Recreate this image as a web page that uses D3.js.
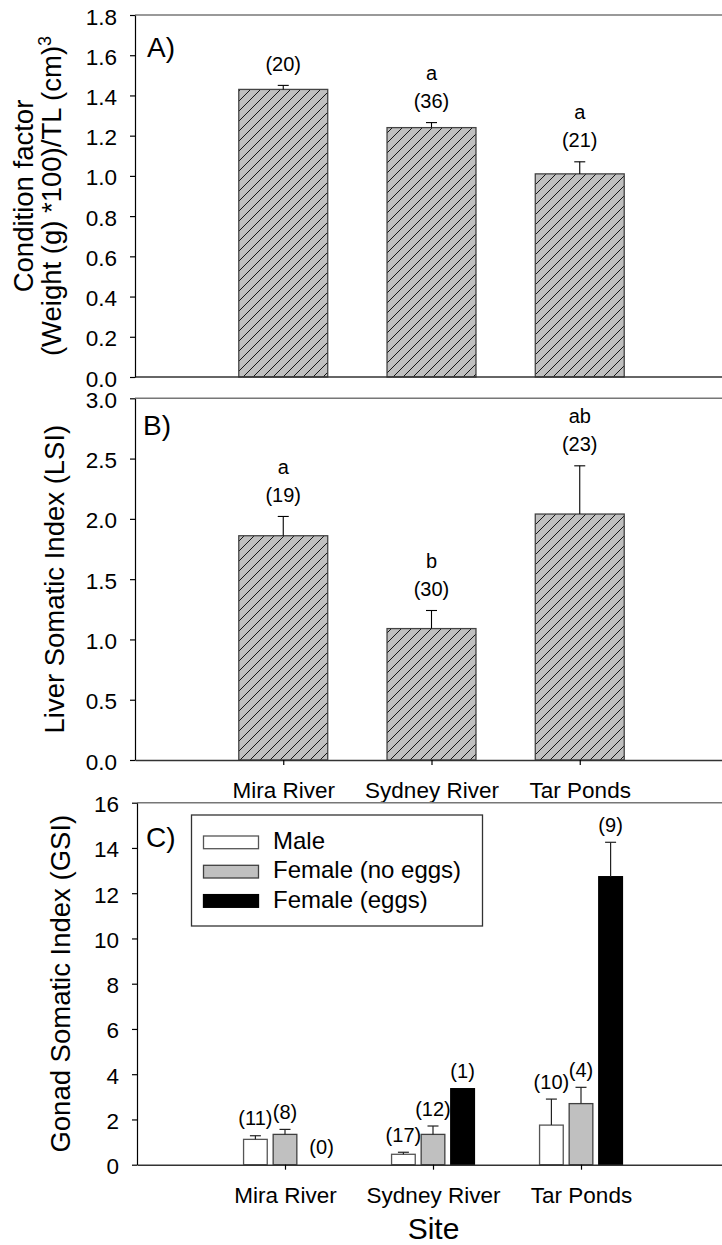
<!DOCTYPE html>
<html><head><meta charset="utf-8">
<script src="https://cdn.jsdelivr.net/npm/d3@7"></script>
<style>body{margin:0;background:#fff}svg{display:block;font-family:"Liberation Sans",Arial,sans-serif}</style>
</head><body><svg id="c" width="722" height="1245"></svg>
<script>
// ---------- data ----------
const sites = ["Mira River", "Sydney River", "Tar Ponds"];

const conditionMean = [1.43, 1.24, 1.01];
const conditionErr = [0.02, 0.025, 0.06];
const conditionN = ["(20)", "(36)", "(21)"];
const conditionLetters = ["", "a", "a"];
const conditionTicks = [0, 0.2, 0.4, 0.6, 0.8, 1.0, 1.2, 1.4, 1.6, 1.8];

const lsiMean = [1.86, 1.09, 2.04];
const lsiErr = [0.16, 0.15, 0.40];
const lsiN = ["(19)", "(30)", "(23)"];
const lsiLetters = ["a", "b", "ab"];
const lsiTicks = [0, 0.5, 1.0, 1.5, 2.0, 2.5, 3.0];

const gsiGroups = ["Male", "Female (no eggs)", "Female (eggs)"];
const gsiMale = [1.12, 0.46, 1.75];
const gsiMaleErr = [0.16, 0.09, 1.15];
const gsiMaleN = ["(11)", "(17)", "(10)"];
const gsiFemaleNoEggs = [1.34, 1.34, 2.70];
const gsiFemaleNoEggsErr = [0.22, 0.37, 0.72];
const gsiFemaleNoEggsN = ["(8)", "(12)", "(4)"];
const gsiFemaleEggs = [0, 3.36, 12.73];
const gsiFemaleEggsErr = [0, 0, 1.52];
const gsiFemaleEggsN = ["(0)", "(1)", "(9)"];
const gsiTicks = [0, 2, 4, 6, 8, 10, 12, 14, 16];

// ---------- drawing ----------
const svg = d3.select("#c");
const defs = svg.append("defs");
const pat = defs.append("pattern").attr("id", "hatch")
  .attr("patternUnits", "userSpaceOnUse").attr("width", 10).attr("height", 10);
pat.append("rect").attr("width", 10).attr("height", 10).attr("fill", "#c0c0c0");
pat.append("path").attr("d", "M-5,5 L5,-5 M0,10 L10,0 M5,15 L15,5")
  .attr("stroke", "#000").attr("stroke-width", 0.9);

const TICK_FS = 22.5, ANN_FS = 20, TITLE_FS = 27.5;

function drawYAxis(axisX, y, ticks, fmt) {
  const g = svg.append("g").attr("transform", `translate(${axisX},0)`)
    .call(d3.axisLeft(y).tickValues(ticks).tickFormat(fmt)
      .tickSize(5).tickSizeOuter(0).tickPadding(13));
  g.select(".domain").attr("stroke", "#000").attr("stroke-width", 1.2);
  g.selectAll(".tick line").attr("stroke", "#000").attr("stroke-width", 1.2);
  g.selectAll(".tick text").attr("font-size", TICK_FS).attr("fill", "#000")
    .attr("font-family", "Liberation Sans, Arial, sans-serif").attr("dy", "0.4em");
  return g;
}

function drawTopLine(axisX, yTop) {
  svg.append("line").attr("x1", axisX).attr("x2", 722).attr("y1", yTop).attr("y2", yTop)
    .attr("stroke", "#777").attr("stroke-width", 1.4);
}

function drawXAxis(axisX, x, y0, withTicks) {
  if (withTicks) {
    const g = svg.append("g").attr("transform", `translate(0,${y0})`)
      .call(d3.axisBottom(x).tickSize(5).tickSizeOuter(0).tickPadding(17));
    g.select(".domain").attr("stroke", "#333").attr("stroke-width", 1.4);
    g.selectAll(".tick line").attr("stroke", "#000").attr("stroke-width", 1.2);
    g.selectAll(".tick text").attr("font-size", TICK_FS).attr("fill", "#000")
      .attr("font-family", "Liberation Sans, Arial, sans-serif");
  } else {
    svg.append("line").attr("x1", axisX).attr("x2", 722).attr("y1", y0).attr("y2", y0)
      .attr("stroke", "#333").attr("stroke-width", 1.4);
  }
}

function rotTitle(lines, xBase, yCenter) {
  lines.forEach((ln, i) => {
    const t = svg.append("text")
      .attr("transform", `translate(${ln.x},${yCenter}) rotate(-90)`)
      .attr("text-anchor", "middle").attr("font-size", TITLE_FS).attr("fill", "#000");
    t.append("tspan").text(ln.text);
    if (ln.sup) t.append("tspan").attr("dy", -10).attr("font-size", 18).text(ln.sup);
  });
}

function hatchPanel(cfg) {
  const x = d3.scalePoint().domain(sites).range([cfg.axisX, 728]).padding(1);
  const y = d3.scaleLinear().domain(cfg.domain).range([cfg.bottom, cfg.top]);
  const bw = x.step() * 0.6;
  drawTopLine(cfg.axisX, y(cfg.domain[1]));
  const g = svg.append("g");
  sites.forEach((s, i) => {
    const m = cfg.means[i], e = cfg.errs[i];
    g.append("rect").attr("x", x(s) - bw / 2).attr("y", y(m))
      .attr("width", bw).attr("height", y(0) - y(m))
      .attr("fill", "url(#hatch)").attr("stroke", "#444").attr("stroke-width", 1.3);
    g.append("line").attr("x1", x(s)).attr("x2", x(s)).attr("y1", y(m)).attr("y2", y(m + e))
      .attr("stroke", "#000").attr("stroke-width", 1.1);
    g.append("line").attr("x1", x(s) - 5.5).attr("x2", x(s) + 5.5).attr("y1", y(m + e)).attr("y2", y(m + e))
      .attr("stroke", "#000").attr("stroke-width", 1.1);
    const yTop = y(m + e);
    g.append("text").attr("x", x(s)).attr("y", yTop - 20 + 5.5)
      .attr("text-anchor", "middle").attr("font-size", ANN_FS).text(cfg.ns[i]);
    if (cfg.letters[i]) g.append("text").attr("x", x(s)).attr("y", yTop - 48 + 5.5)
      .attr("text-anchor", "middle").attr("font-size", ANN_FS).text(cfg.letters[i]);
  });
  drawXAxis(cfg.axisX, x, y(0), cfg.xTicks);
  drawYAxis(cfg.axisX, y, cfg.ticks, d3.format(".1f"));
  svg.append("text").attr("x", cfg.labelX).attr("y", cfg.labelY)
    .attr("font-size", 28).text(cfg.label);
  rotTitle(cfg.title, 0, (y(0) + y(cfg.domain[1])) / 2);
}

hatchPanel({
  axisX: 135, top: 15, bottom: 377, domain: [0, 1.8], ticks: conditionTicks,
  means: conditionMean, errs: conditionErr, ns: conditionN, letters: conditionLetters,
  xTicks: false, label: "A)", labelX: 147, labelY: 57,
  title: [{ text: "Condition factor", x: 33 },
          { text: "(Weight (g) *100)/TL (cm)", sup: "3", x: 61 }]
});

hatchPanel({
  axisX: 135, top: 398.3, bottom: 760, domain: [0, 3], ticks: lsiTicks,
  means: lsiMean, errs: lsiErr, ns: lsiN, letters: lsiLetters,
  xTicks: true, label: "B)", labelX: 143, labelY: 435,
  title: [{ text: "Liver Somatic Index (LSI)", x: 64 }]
});

// Panel C
(function () {
  const axisX = 137;
  const x = d3.scalePoint().domain(sites).range([axisX, 729]).padding(1);
  const y = d3.scaleLinear().domain([0, 16]).range([1164.7, 802.7]);
  const series = [
    { name: gsiGroups[0], m: gsiMale, e: gsiMaleErr, n: gsiMaleN, fill: "#ffffff", stroke: "#555" },
    { name: gsiGroups[1], m: gsiFemaleNoEggs, e: gsiFemaleNoEggsErr, n: gsiFemaleNoEggsN, fill: "#c0c0c0", stroke: "#404040" },
    { name: gsiGroups[2], m: gsiFemaleEggs, e: gsiFemaleEggsErr, n: gsiFemaleEggsN, fill: "#000000", stroke: "#000" }
  ];
  const bw = x.step() * 0.16, off = x.step() * 0.2;
  drawTopLine(axisX, y(16));
  const g = svg.append("g");
  series.forEach((sr, k) => {
    sites.forEach((s, i) => {
      const cx = x(s) + (k - 1) * off;
      const m = sr.m[i], e = sr.e[i];
      if (m > 0) {
        g.append("rect").attr("x", cx - bw / 2).attr("y", y(m))
          .attr("width", bw).attr("height", y(0) - y(m))
          .attr("fill", sr.fill).attr("stroke", sr.stroke).attr("stroke-width", 1.3);
      }
      if (e > 0) {
        g.append("line").attr("x1", cx).attr("x2", cx).attr("y1", y(m)).attr("y2", y(m + e))
          .attr("stroke", "#222").attr("stroke-width", 1.2);
        g.append("line").attr("x1", cx - 5.5).attr("x2", cx + 5.5).attr("y1", y(m + e)).attr("y2", y(m + e))
          .attr("stroke", "#222").attr("stroke-width", 1.2);
      }
      g.append("text").attr("x", m > 0 ? cx : cx + 7).attr("y", y(m + e) - 16 + 5.5)
        .attr("text-anchor", "middle").attr("font-size", ANN_FS).text(sr.n[i]);
    });
  });
  drawXAxis(axisX, x, y(0), true);
  drawYAxis(axisX, y, gsiTicks, d3.format("d"));
  svg.append("text").attr("x", 146).attr("y", 846.7).attr("font-size", 28).text("C)");
  rotTitle([{ text: "Gonad Somatic Index (GSI)", x: 70 }], 0, (y(0) + y(16)) / 2);

  // legend
  const lg = svg.append("g");
  lg.append("rect").attr("x", 191.5).attr("y", 815).attr("width", 291).attr("height", 111)
    .attr("fill", "#fff").attr("stroke", "#333").attr("stroke-width", 1.3);
  series.forEach((sr, k) => {
    lg.append("rect").attr("x", 203.5).attr("y", 836 + k * 29.3).attr("width", 55).attr("height", 12.7)
      .attr("fill", sr.fill).attr("stroke", sr.stroke).attr("stroke-width", 1.3);
    lg.append("text").attr("x", 273).attr("y", 848.7 + k * 29.5)
      .attr("font-size", 24).text(sr.name);
  });
})();

svg.append("text").attr("x", 433.5).attr("y", 1239).attr("text-anchor", "middle")
  .attr("font-size", 30).text("Site");
</script>
</body></html>
